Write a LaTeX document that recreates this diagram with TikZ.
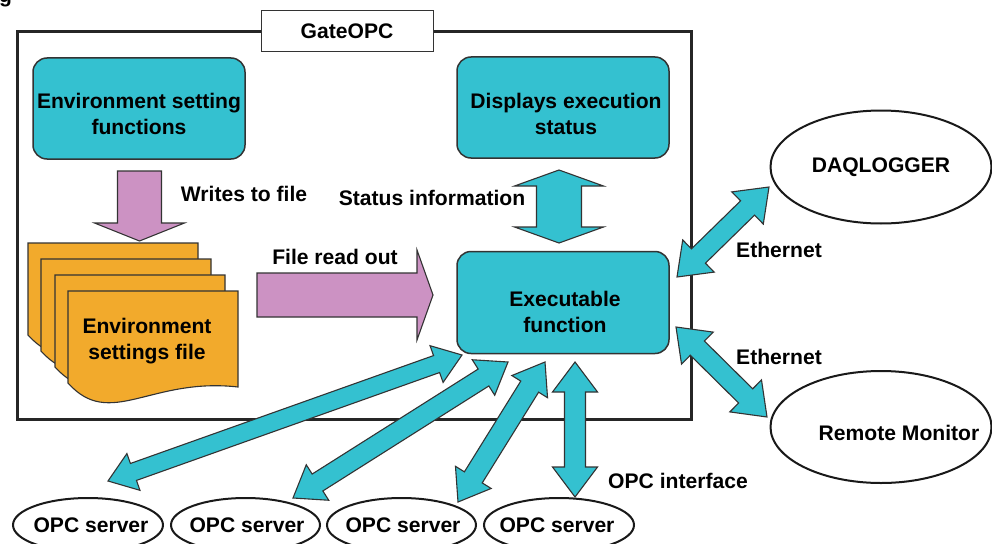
\documentclass[tikz,border=0pt]{standalone}
\usepackage{fontspec}
\setmainfont{Liberation Sans}
\usetikzlibrary{calc,shapes.geometric}
\definecolor{tealc}{HTML}{34C1D0}
\definecolor{pinkc}{HTML}{CC92C3}
\definecolor{orangec}{HTML}{F2AA2C}
\definecolor{edgec}{HTML}{333333}
\tikzset{
  txt/.style={font=\bfseries\fontsize{21.1}{26}\selectfont, align=center, inner sep=0pt, text=black},
  fbox/.style={draw=edgec, line width=1.5pt, fill=tealc, rounded corners=14pt},
  frameline/.style={draw=black!85, line width=3pt},
  labelbox/.style={draw=edgec, line width=1pt, fill=white, minimum width=172pt, minimum height=41pt, inner sep=0pt},
  oval/.style={ellipse, draw=black!90, line width=2pt, fill=white, inner sep=0pt},
  tealarrow/.style={draw=edgec, line width=1.1pt, fill=tealc, line join=miter},
  pinkarrow/.style={draw=edgec, line width=1.1pt, fill=pinkc, line join=miter},
  pagest/.style={draw=edgec, line width=1.1pt, fill=orangec},
}
% double block arrow: style, A, B, shaft half, head half, head length
\newcommand\dblblock[6]{%
  \path ($(#2)!#6pt!(#3)$) coordinate (tmpP) ($(#3)!#6pt!(#2)$) coordinate (tmpQ);
  \draw[#1] (#2) -- ($(tmpP)!#5pt!90:(#3)$) -- ($(tmpP)!#4pt!90:(#3)$)
    -- ($(tmpQ)!#4pt!-90:(#2)$) -- ($(tmpQ)!#5pt!-90:(#2)$) -- (#3)
    -- ($(tmpQ)!#5pt!90:(#2)$) -- ($(tmpQ)!#4pt!90:(#2)$)
    -- ($(tmpP)!#4pt!-90:(#3)$) -- ($(tmpP)!#5pt!-90:(#3)$) -- cycle;}
% single block arrow: style, tail, tip, shaft half, head half, head length
\newcommand\sglblock[6]{%
  \path ($(#3)!#6pt!(#2)$) coordinate (tmpQ);
  \draw[#1] ($(#2)!#4pt!90:(#3)$) -- ($(tmpQ)!#4pt!-90:(#2)$) -- ($(tmpQ)!#5pt!-90:(#2)$)
    -- (#3) -- ($(tmpQ)!#5pt!90:(#2)$) -- ($(tmpQ)!#4pt!90:(#2)$)
    -- ($(#2)!#4pt!-90:(#3)$) -- cycle;}
\newcommand\docpage[2]{%
  \begin{scope}[shift={(#1,#2)}]
    \draw[pagest] (0,0) -- (170,0) -- (170,96) .. controls (82,86) and (42,139) .. (0,92) -- cycle;
  \end{scope}}
\begin{document}
\begin{tikzpicture}[x=1pt,y=-1pt]
\useasboundingbox (0,0) rectangle (992,543);
\fill[white] (0,0) rectangle (992,543);
\node[txt, anchor=base west] (cut) at (-1,3) {g};
% GateOPC frame
\draw[frameline] (17,32) rectangle (691,419);
\node[labelbox] (gate) at (347,31.5) {};
\node[txt] (gatetxt) at (347,31) {GateOPC};
% boxes
\node[fbox, minimum width=212pt, minimum height=101pt] (envfun) at (139,108.5) {};
\node[txt] at (139,114) {Environment setting\\functions};
\node[fbox, minimum width=212pt, minimum height=101pt] (dispstat) at (563,107.5) {};
\node[txt] at (566,114) {Displays execution\\status};
\node[fbox, minimum width=212pt, minimum height=102pt] (execfun) at (563,302.5) {};
\node[txt] at (565,312) {Executable\\function};
% document stack
\docpage{28}{243}
\docpage{41}{259}
\docpage{55}{275}
\docpage{68}{291}
\node[txt] (file) at (147,341) {Environment\\settings file};
% ovals
\node[oval, minimum width=221pt, minimum height=113pt] (daq) at (881,167) {};
\node[txt] at (881,167) {DAQLOGGER};
\node[oval, minimum width=221pt, minimum height=112pt] (remote) at (881,427) {};
\node[txt] at (899,433) {Remote Monitor};
\node[oval, minimum width=150pt, minimum height=54pt] (opc1) at (88,525) {};
\node[oval, minimum width=149pt, minimum height=54pt] (opc2) at (245.5,525) {};
\node[oval, minimum width=149pt, minimum height=54pt] (opc3) at (401.5,525) {};
\node[oval, minimum width=150pt, minimum height=54pt] (opc4) at (559,525) {};
\node[txt] at (91,525) {OPC server};
\node[txt] at (247,525) {OPC server};
\node[txt] at (403,525) {OPC server};
\node[txt] at (557,525) {OPC server};
% arrow end points
\coordinate (wA) at (139.5,171);
\coordinate (wB) at (139.5,241);
\coordinate (rA) at (257,295);
\coordinate (rB) at (433,295);
\coordinate (sA) at (559,170);
\coordinate (sB) at (559,243);
\coordinate (e1A) at (677,277);
\coordinate (e1B) at (769,187);
\coordinate (e2A) at (676,327);
\coordinate (e2B) at (767,417);
\coordinate (oaA) at (462,355);
\coordinate (oaB) at (108,481);
\coordinate (obA) at (508,362);
\coordinate (obB) at (293,498);
\coordinate (ocA) at (545,362);
\coordinate (ocB) at (458,502);
\coordinate (odA) at (575,362);
\coordinate (odB) at (575,497);
% arrows
\sglblock{pinkarrow}{wA}{wB}{22}{45}{18}
\sglblock{pinkarrow}{rA}{rB}{22}{45}{16}
\dblblock{tealarrow}{sA}{sB}{22.5}{44.5}{16}
\dblblock{tealarrow}{e1A}{e1B}{10}{22.5}{30}
\dblblock{tealarrow}{e2A}{e2B}{10}{22.5}{30}
\dblblock{tealarrow}{oaA}{oaB}{9}{19.5}{27}
\dblblock{tealarrow}{obA}{obB}{10}{21}{29}
\dblblock{tealarrow}{ocA}{ocB}{10.5}{21}{29}
\dblblock{tealarrow}{odA}{odB}{10.5}{22.5}{30}
% labels
\node[txt] at (244,194) {Writes to file};
\node[txt] at (335,257) {File read out};
\node[txt] at (432,198) {Status information};
\node[txt] at (779,250) {Ethernet};
\node[txt] at (779,357) {Ethernet};
\node[txt] at (678,481) {OPC interface};
\end{tikzpicture}
\end{document}
